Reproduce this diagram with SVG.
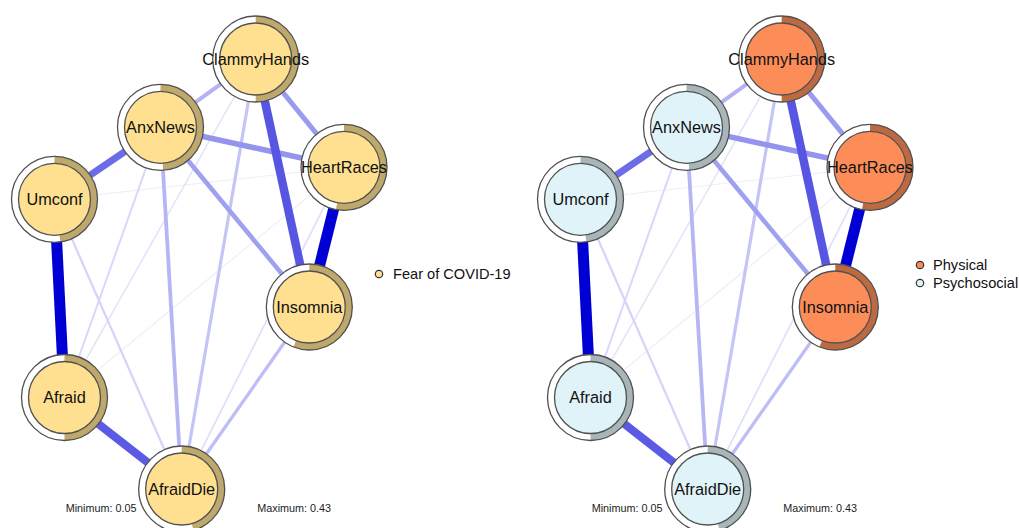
<svg xmlns="http://www.w3.org/2000/svg" width="1019" height="528" viewBox="0 0 1019 528">
<style>
text{font-family:"Liberation Sans",Arial,sans-serif;fill:#111}
.lbl{font-size:16.3px;text-anchor:middle}
.leg{font-size:14.6px}
.mm{font-size:10.8px;fill:#222}
.ring{fill:#fff}
.brd{fill:none;stroke:#505050;stroke-width:1.3}
.pie{fill:none;stroke-width:7}
.in{stroke:#505050;stroke-width:1.3}
.gold .in{fill:#FEE090}.gold .pie{stroke:#BEA86C}
.phys .in{fill:#FC8D59}.phys .pie{stroke:#BD6A43}
.psy .in{fill:#E0F3F8}.psy .pie{stroke:#A8B6BA}
line{stroke-linecap:butt}
.e1{stroke:#0000D5;stroke-width:11}
.e2{stroke:#0000D5;stroke-width:11}
.e3{stroke:#5656E3;stroke-width:8.5}
.e4{stroke:#5A5AE4;stroke-width:8}
.e5{stroke:#6C6CE8;stroke-width:7}
.e6{stroke:#9494EF;stroke-width:5.5}
.e7{stroke:#9A9AF0;stroke-width:5}
.e8{stroke:#B4B4F5;stroke-width:4}
.e9{stroke:#A0A0F1;stroke-width:4.5}
.e10{stroke:#B6B6F5;stroke-width:3.8}
.e11{stroke:#C4C4F7;stroke-width:3.2}
.e12{stroke:#BEBEF6;stroke-width:3.3}
.e13{stroke:#D4D4F9;stroke-width:2.2}
.e14{stroke:#D8D8FA;stroke-width:2}
.e15{stroke:#E4E4FB;stroke-width:1.6}
.e16{stroke:#E0E0FA;stroke-width:1.7}
.e17{stroke:#EEEEFC;stroke-width:1.2}
.e18{stroke:#EFEFFC;stroke-width:1.2}
.dot{stroke:#333;stroke-width:1.2}
</style>
<rect width="1019" height="528" fill="#fff"/>
<g id="connectors">
<g id="edges-left">
<line class="e18" x1="54.5" y1="199.3" x2="344" y2="167.3"/>
<line class="e17" x1="344" y1="167.3" x2="64.5" y2="397.5"/>
<line class="e15" x1="255.7" y1="59" x2="64.5" y2="397.5"/>
<line class="e16" x1="344" y1="167.3" x2="181.7" y2="489"/>
<line class="e14" x1="160.5" y1="127.3" x2="64.5" y2="397.5"/>
<line class="e13" x1="54.5" y1="199.3" x2="181.7" y2="489"/>
<line class="e11" x1="255.7" y1="59" x2="181.7" y2="489"/>
<line class="e12" x1="309.3" y1="307" x2="181.7" y2="489"/>
<line class="e10" x1="160.5" y1="127.3" x2="181.7" y2="489"/>
<line class="e8" x1="255.7" y1="59" x2="160.5" y2="127.3"/>
<line class="e9" x1="160.5" y1="127.3" x2="309.3" y2="307"/>
<line class="e7" x1="255.7" y1="59" x2="344" y2="167.3"/>
<line class="e6" x1="160.5" y1="127.3" x2="344" y2="167.3"/>
<line class="e5" x1="160.5" y1="127.3" x2="54.5" y2="199.3"/>
<line class="e4" x1="64.5" y1="397.5" x2="181.7" y2="489"/>
<line class="e3" x1="255.7" y1="59" x2="309.3" y2="307"/>
<line class="e2" x1="344" y1="167.3" x2="309.3" y2="307"/>
<line class="e1" x1="54.5" y1="199.3" x2="64.5" y2="397.5"/>
</g>
<g id="edges-right">
<line class="e18" x1="580.5" y1="199.3" x2="870" y2="167.3"/>
<line class="e17" x1="870" y1="167.3" x2="590.5" y2="397.5"/>
<line class="e15" x1="781.7" y1="59" x2="590.5" y2="397.5"/>
<line class="e16" x1="870" y1="167.3" x2="707.7" y2="489"/>
<line class="e14" x1="686.5" y1="127.3" x2="590.5" y2="397.5"/>
<line class="e13" x1="580.5" y1="199.3" x2="707.7" y2="489"/>
<line class="e11" x1="781.7" y1="59" x2="707.7" y2="489"/>
<line class="e12" x1="835.3" y1="307" x2="707.7" y2="489"/>
<line class="e10" x1="686.5" y1="127.3" x2="707.7" y2="489"/>
<line class="e8" x1="781.7" y1="59" x2="686.5" y2="127.3"/>
<line class="e9" x1="686.5" y1="127.3" x2="835.3" y2="307"/>
<line class="e7" x1="781.7" y1="59" x2="870" y2="167.3"/>
<line class="e6" x1="686.5" y1="127.3" x2="870" y2="167.3"/>
<line class="e5" x1="686.5" y1="127.3" x2="580.5" y2="199.3"/>
<line class="e4" x1="590.5" y1="397.5" x2="707.7" y2="489"/>
<line class="e3" x1="781.7" y1="59" x2="835.3" y2="307"/>
<line class="e2" x1="870" y1="167.3" x2="835.3" y2="307"/>
<line class="e1" x1="580.5" y1="199.3" x2="590.5" y2="397.5"/>
</g>
</g>
<g id="nodes-left">
<g id="L-ClammyHands" class="gold" transform="translate(255.7,59)">
<circle class="ring" r="43"/><circle class="pie" r="39.5" pathLength="100" stroke-dasharray="50 100" transform="rotate(-90)"/><circle class="brd" r="43"/><circle class="in" r="36"/>
<text class="lbl" y="5.8">ClammyHands</text></g>
<g id="L-AnxNews" class="gold" transform="translate(160.5,127.3)">
<circle class="ring" r="43"/><circle class="pie" r="39.5" pathLength="100" stroke-dasharray="49 100" transform="rotate(-90)"/><circle class="brd" r="43"/><circle class="in" r="36"/>
<text class="lbl" y="5.8">AnxNews</text></g>
<g id="L-Umconf" class="gold" transform="translate(54.5,199.3)">
<circle class="ring" r="43"/><circle class="pie" r="39.5" pathLength="100" stroke-dasharray="47.8 100" transform="rotate(-90)"/><circle class="brd" r="43"/><circle class="in" r="36"/>
<text class="lbl" y="5.8">Umconf</text></g>
<g id="L-HeartRaces" class="gold" transform="translate(344,167.3)">
<circle class="ring" r="43"/><circle class="pie" r="39.5" pathLength="100" stroke-dasharray="53 100" transform="rotate(-90)"/><circle class="brd" r="43"/><circle class="in" r="36"/>
<text class="lbl" y="5.8">HeartRaces</text></g>
<g id="L-Insomnia" class="gold" transform="translate(309.3,307)">
<circle class="ring" r="43"/><circle class="pie" r="39.5" pathLength="100" stroke-dasharray="56 100" transform="rotate(-90)"/><circle class="brd" r="43"/><circle class="in" r="36"/>
<text class="lbl" y="5.8">Insomnia</text></g>
<g id="L-Afraid" class="gold" transform="translate(64.5,397.5)">
<circle class="ring" r="43"/><circle class="pie" r="39.5" pathLength="100" stroke-dasharray="50 100" transform="rotate(-90)"/><circle class="brd" r="43"/><circle class="in" r="36"/>
<text class="lbl" y="5.8">Afraid</text></g>
<g id="L-AfraidDie" class="gold" transform="translate(181.7,489)">
<circle class="ring" r="43"/><circle class="pie" r="39.5" pathLength="100" stroke-dasharray="45.5 100" transform="rotate(-90)"/><circle class="brd" r="43"/><circle class="in" r="36"/>
<text class="lbl" y="5.8">AfraidDie</text></g>
</g>
<g id="nodes-right">
<g id="R-ClammyHands" class="phys" transform="translate(781.7,59)">
<circle class="ring" r="43"/><circle class="pie" r="39.5" pathLength="100" stroke-dasharray="50 100" transform="rotate(-90)"/><circle class="brd" r="43"/><circle class="in" r="36"/>
<text class="lbl" y="5.8">ClammyHands</text></g>
<g id="R-AnxNews" class="psy" transform="translate(686.5,127.3)">
<circle class="ring" r="43"/><circle class="pie" r="39.5" pathLength="100" stroke-dasharray="49 100" transform="rotate(-90)"/><circle class="brd" r="43"/><circle class="in" r="36"/>
<text class="lbl" y="5.8">AnxNews</text></g>
<g id="R-Umconf" class="psy" transform="translate(580.5,199.3)">
<circle class="ring" r="43"/><circle class="pie" r="39.5" pathLength="100" stroke-dasharray="47.8 100" transform="rotate(-90)"/><circle class="brd" r="43"/><circle class="in" r="36"/>
<text class="lbl" y="5.8">Umconf</text></g>
<g id="R-HeartRaces" class="phys" transform="translate(870,167.3)">
<circle class="ring" r="43"/><circle class="pie" r="39.5" pathLength="100" stroke-dasharray="53 100" transform="rotate(-90)"/><circle class="brd" r="43"/><circle class="in" r="36"/>
<text class="lbl" y="5.8">HeartRaces</text></g>
<g id="R-Insomnia" class="phys" transform="translate(835.3,307)">
<circle class="ring" r="43"/><circle class="pie" r="39.5" pathLength="100" stroke-dasharray="56 100" transform="rotate(-90)"/><circle class="brd" r="43"/><circle class="in" r="36"/>
<text class="lbl" y="5.8">Insomnia</text></g>
<g id="R-Afraid" class="psy" transform="translate(590.5,397.5)">
<circle class="ring" r="43"/><circle class="pie" r="39.5" pathLength="100" stroke-dasharray="50 100" transform="rotate(-90)"/><circle class="brd" r="43"/><circle class="in" r="36"/>
<text class="lbl" y="5.8">Afraid</text></g>
<g id="R-AfraidDie" class="psy" transform="translate(707.7,489)">
<circle class="ring" r="43"/><circle class="pie" r="39.5" pathLength="100" stroke-dasharray="45.5 100" transform="rotate(-90)"/><circle class="brd" r="43"/><circle class="in" r="36"/>
<text class="lbl" y="5.8">AfraidDie</text></g>
</g>
<g id="legend-left">
<circle class="dot" cx="379" cy="274" r="3.7" fill="#FEE090"/>
<text class="leg" x="393" y="279.2">Fear of COVID-19</text>
</g>
<g id="legend-right">
<circle class="dot" cx="920" cy="265" r="3.7" fill="#FC8D59"/>
<text class="leg" x="933" y="270.2">Physical</text>
<circle class="dot" cx="920" cy="283" r="3.7" fill="#E0F3F8"/>
<text class="leg" x="933" y="288.2">Psychosocial</text>
</g>
<g id="scale-notes">
<text class="mm" x="65.7" y="512">Minimum: 0.05</text>
<text class="mm" x="257.3" y="512">Maximum: 0.43</text>
<text class="mm" x="591.7" y="512">Minimum: 0.05</text>
<text class="mm" x="783.3" y="512">Maximum: 0.43</text>
</g>
</svg>
